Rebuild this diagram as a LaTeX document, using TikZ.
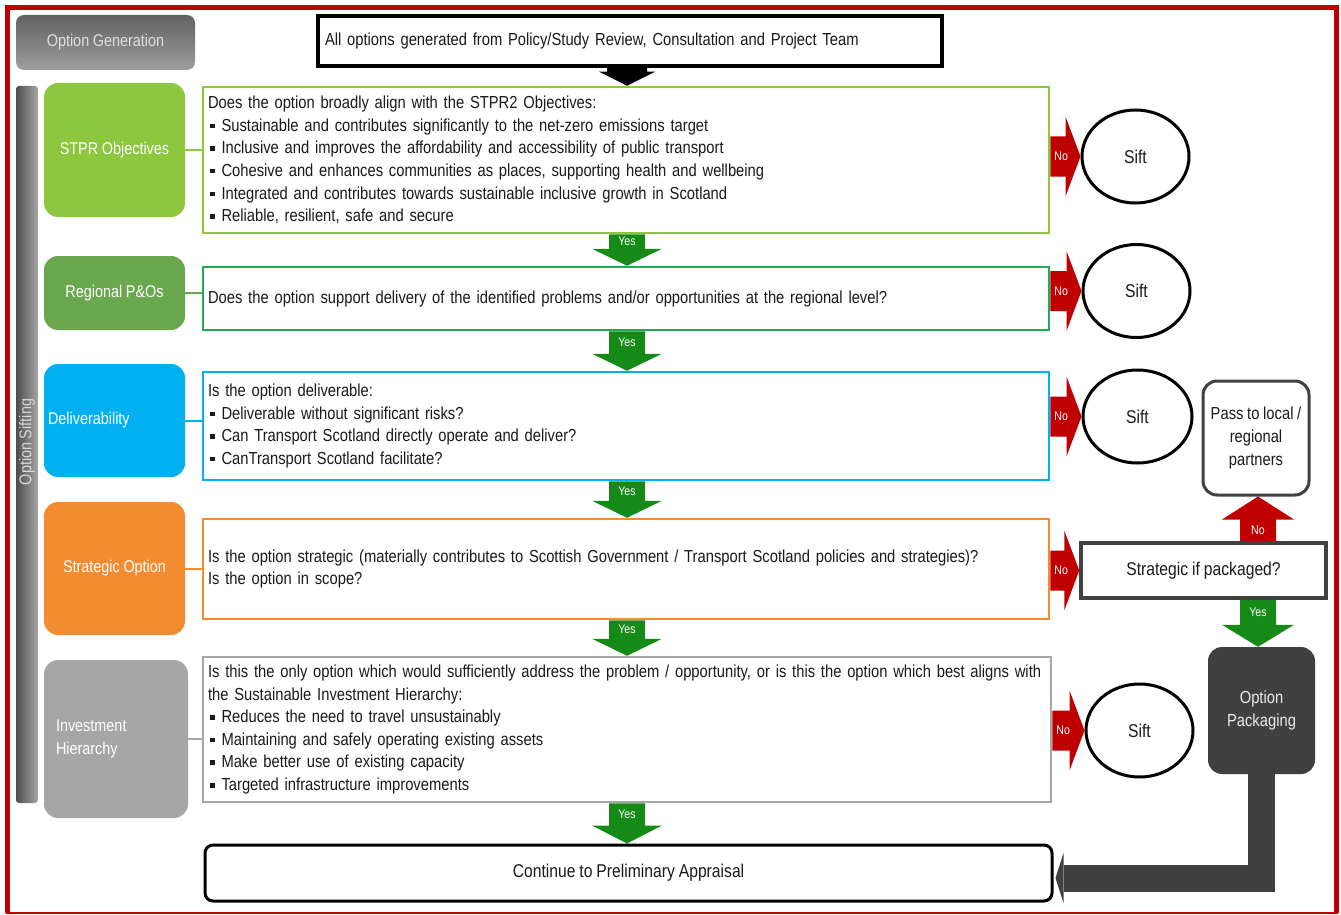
\documentclass[tikz,border=0pt]{standalone}
\usepackage{fontspec}
\setmainfont{Liberation Sans}[FakeStretch=0.848,WordSpace=0.9]
\usetikzlibrary{calc,shapes.geometric}
\definecolor{frame}{HTML}{C00000}
\definecolor{lgreen}{HTML}{8DC63F}
\definecolor{mgreen}{HTML}{6AA84F}
\definecolor{bgreen}{HTML}{22AA55}
\definecolor{cyanb}{HTML}{00B0F0}
\definecolor{orng}{HTML}{F38B31}
\definecolor{grayb}{HTML}{A6A6A6}
\definecolor{arrg}{HTML}{168A16}
\definecolor{arrr}{HTML}{C00000}
\definecolor{dgray}{HTML}{404040}
\definecolor{txt}{HTML}{1A1A1A}
\pgfdeclarelayer{back}
\pgfdeclarelayer{bg}
\pgfsetlayers{back,bg,main}
\newcommand\boxfont{\fontsize{17.4}{22.6}\selectfont}
\newcommand\bigboxfont{\fontsize{18.5}{22.6}\selectfont}
\newcommand\labfont{\fontsize{17}{23}\selectfont}
\newcommand\bul{\hspace*{2pt}\rule[3pt]{4.5pt}{4.5pt}\hspace{7pt}}
% vertical block arrow: #1 from, #2 to, #3 x reference, #4 half shaft, #5 half head, #6 signed head offset, #7 colour, #8 label
\newcommand\vblock[8]{%
  \coordinate (ds) at (#3 |- #1);
  \coordinate (dt) at (#3 |- #2);
  \coordinate (db) at ($(dt)+(0,#6)$);
  \fill[#7] ($(ds)+(-#4,0)$) -- ($(db)+(-#4,0)$) -- ($(db)+(-#5,0)$) -- (dt) -- ($(db)+(#5,0)$) -- ($(db)+(#4,0)$) -- ($(ds)+(#4,0)$) -- cycle;
  \node[arrlbl] at ($(ds)!0.5!(db)$) {#8};
}
% horizontal block arrow to the right: #1 start node anchor (x), #2 target anchor, #3 label
\newcommand\rblock[3]{%
  \coordinate (rs) at (#1 |- #2);
  \coordinate (rt) at (#2);
  \fill[arrr] ($(rs)+(0,-20)$) -- ($(rt)+(-15,-20)$) -- ($(rt)+(-15,-40)$) -- (rt) -- ($(rt)+(-15,40)$) -- ($(rt)+(-15,20)$) -- ($(rs)+(0,20)$) -- cycle;
  \node[arrlbl] at ($(rs)+(11,0)$) {#3};
}
\begin{document}
\begin{tikzpicture}[x=1pt,y=-1pt,
  qbox/.style={draw, line width=2.5pt, align=left, inner xsep=5pt, inner ysep=0pt, font=\boxfont, text=txt},
  lab/.style={rounded corners=14pt, minimum width=141pt, text=white, font=\labfont, inner sep=0pt},
  arrlbl/.style={text=white, font=\fontsize{12.5}{13}\selectfont, inner sep=0pt},
  siftnode/.style={ellipse, draw, line width=3pt, minimum width=107pt, minimum height=93pt, inner sep=0pt, font=\fontsize{18.5}{20}\selectfont, text=txt},
  conn/.style={line width=2pt}]
\useasboundingbox (0,0) rectangle (1341,915);
\begin{pgfonlayer}{back}
\fill[white] (0,0) rectangle (1341,915);
\end{pgfonlayer}
% frame
\draw[frame, line width=5pt] (7.5,913) -- (7.5,7.5) -- (1336.5,7.5) -- (1336.5,913);
\draw[frame, line width=2pt] (6,913) -- (1338,913);
% option generation
\node[top color=black!62, bottom color=black!38, rounded corners=8pt, minimum width=179pt, minimum height=55pt, inner sep=0pt, text=white!88!black, font=\labfont] (gen) at (105.5,42.5) {Option Generation};
% option sifting bar
\shade[left color=black!70, right color=black!35, rounded corners=3pt] (16,86) rectangle (38,803);
\node[rotate=90, text=white!85!black, font=\labfont, inner sep=0pt] (siftlbl) at (27,442) {Option Sifting};
% top box
\node[draw, line width=3.5pt, minimum width=624pt, minimum height=50pt, text width=610pt, inner xsep=7pt, align=left, font=\boxfont, text=txt] (top) at (630,41) {All options generated from Policy/Study Review, Consultation and Project Team};
% left labels
\node[lab, fill=lgreen, minimum height=134pt] (stprL) at (114.5,150) {STPR Objectives};
\node[lab, fill=mgreen, minimum height=74pt] (regL) at (114.5,293) {Regional P\&Os};
\node[lab, fill=cyanb, minimum height=113pt, text width=133pt, align=left, inner xsep=4pt] (delL) at (114.5,420.5) {Deliverability};
\node[lab, fill=orng, minimum height=133pt] (strL) at (114.5,568.5) {Strategic Option};
\node[lab, fill=grayb, minimum width=144pt, minimum height=158pt, text width=120pt, align=left, inner xsep=12pt] (invL) at (116,739) {Investment\\Hierarchy};
% main boxes
\node[qbox, draw=lgreen, minimum width=846pt, minimum height=146pt, text width=836pt] (box1) at (626,160) {Does the option broadly align with the STPR2 Objectives:\\
\bul Sustainable and contributes significantly to the net-zero emissions target\\
\bul Inclusive and improves the affordability and accessibility of public transport\\
\bul Cohesive and enhances communities as places, supporting health and wellbeing\\
\bul Integrated and contributes towards sustainable inclusive growth in Scotland\\
\bul Reliable, resilient, safe and secure};
\node[qbox, draw=bgreen, minimum width=846pt, minimum height=63pt, text width=836pt] (box2) at (626,298.5) {Does the option support delivery of the identified problems and/or opportunities at the regional level?};
\node[qbox, draw=cyanb, minimum width=846pt, minimum height=108pt, text width=836pt] (box3) at (626,426) {Is the option deliverable:\\
\bul Deliverable without significant risks?\\
\bul Can Transport Scotland directly operate and deliver?\\
\bul CanTransport Scotland facilitate?};
\node[qbox, draw=orng, minimum width=846pt, minimum height=100pt, text width=836pt] (box4) at (626,569) {Is the option strategic (materially contributes to Scottish Government / Transport Scotland policies and strategies)?\\
Is the option in scope?};
\node[qbox, draw=grayb, minimum width=848pt, minimum height=145pt, text width=838pt] (box5) at (627,729.5) {\mbox{Is this the only option which would sufficiently address the problem / opportunity, or is this the option which best aligns with}\\
the Sustainable Investment Hierarchy:\\
\bul Reduces the need to travel unsustainably\\
\bul Maintaining and safely operating existing assets\\
\bul Make better use of existing capacity\\
\bul Targeted infrastructure improvements};
\node[draw, line width=3pt, rounded corners=8pt, minimum width=847pt, minimum height=56pt, font=\bigboxfont, text=txt] (cont) at (628.5,873) {Continue to Preliminary Appraisal};
% label connectors
\draw[conn, lgreen] (stprL.east) -- (stprL.east -| box1.west);
\draw[conn, mgreen] (regL.east) -- (regL.east -| box2.west);
\draw[conn, cyanb] (delL.east) -- (delL.east -| box3.west);
\draw[conn, orng] (strL.east) -- (strL.east -| box4.west);
\draw[conn, grayb] (invL.east) -- (invL.east -| box5.west);
% sift ellipses
\node[siftnode] (sift1) at (1135.5,156.5) {Sift};
\node[siftnode] (sift2) at (1136.5,291) {Sift};
\node[siftnode, minimum width=109pt] (sift3) at (1137.5,416.5) {Sift};
\node[siftnode] (sift5) at (1139.5,730.5) {Sift};
% right column
\node[draw=dgray, line width=3.5pt, minimum width=245pt, minimum height=55pt, font=\bigboxfont, text=txt] (strat) at (1203.5,570.5) {Strategic if packaged?};
\node[draw=dgray, line width=3pt, rounded corners=14pt, minimum width=106pt, minimum height=114pt, align=center, font=\boxfont, text=txt] (pass) at (1256,438) {Pass to local /\\regional\\partners};
\node[fill=dgray, rounded corners=14pt, minimum width=107pt, minimum height=127pt, align=center, font=\boxfont, text=white!92!black] (pack) at (1261.5,710.5) {Option\\Packaging};
\coordinate (cx) at (627,0);
\coordinate (rx) at (1258,0);
\begin{pgfonlayer}{bg}
\vblock{top.south}{box1.north}{cx}{20}{28}{-14}{black}{}
\vblock{box1.south}{box2.north}{cx}{18}{35}{-17}{arrg}{Yes}
\vblock{box2.south}{box3.north}{cx}{18}{35}{-17}{arrg}{Yes}
\vblock{box3.south}{box4.north}{cx}{18}{35}{-17}{arrg}{Yes}
\vblock{box4.south}{box5.north}{cx}{18}{35}{-17}{arrg}{Yes}
\vblock{box5.south}{cont.north}{cx}{18}{35}{-18}{arrg}{Yes}
\rblock{box1.east}{sift1.west}{No}
\rblock{box2.east}{sift2.west}{No}
\rblock{box3.east}{sift3.west}{No}
\rblock{box4.east}{strat.west}{No}
\rblock{box5.east}{sift5.west}{No}
\vblock{strat.north}{pass.south}{rx}{18}{36}{23}{arrr}{No}
\vblock{strat.south}{pack.north}{rx}{18}{36}{-22}{arrg}{Yes}
\draw[dgray, line width=27pt, line join=miter] ($(pack.south)+(0,-4)$) |- ($(cont.east)+(10,5)$);
\fill[dgray] ($(cont.east)+(10,-20)$) -- ($(cont.east)+(10,30)$) -- ($(cont.east)+(2,5)$) -- cycle;
\end{pgfonlayer}
\end{tikzpicture}
\end{document}
